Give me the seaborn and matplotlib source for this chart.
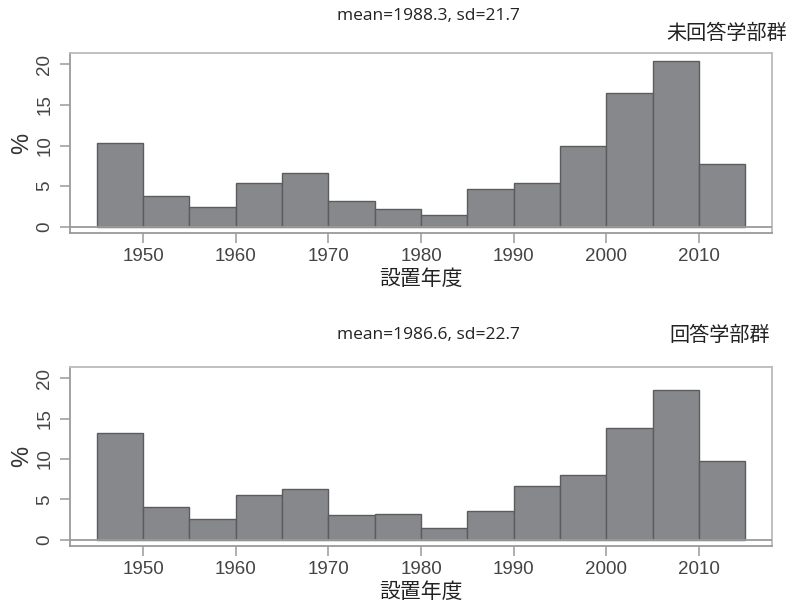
import numpy as np
import pandas as pd
import matplotlib
matplotlib.use("Agg")
import matplotlib.pyplot as plt
import seaborn as sns

# ---- data ----
bin_edges = [1945, 1950, 1955, 1960, 1965, 1970, 1975, 1980, 1985, 1990, 1995, 2000, 2005, 2010, 2015]
bin_starts = bin_edges[:-1]
pct_nonresp = [10.3, 3.8, 2.4, 5.4, 6.6, 3.2, 2.2, 1.4, 4.6, 5.4, 9.9, 16.5, 20.4, 7.7]
pct_resp = [13.2, 4.1, 2.6, 5.5, 6.3, 3.0, 3.2, 1.4, 3.6, 6.6, 8.0, 13.9, 18.5, 9.8]
titles = ["mean=1988.3, sd=21.7", "mean=1986.6, sd=22.7"]
groups = ["未回答学部群", "回答学部群"]
x_ticks = [1950, 1960, 1970, 1980, 1990, 2000, 2010]
y_ticks = [0, 5, 10, 15, 20]
x_label = "設置年度"
y_label = "%"

sns.set_theme(style="white")
plt.rcParams['font.family'] = ['Liberation Sans', 'DejaVu Sans']

fig = plt.figure(figsize=(7.9, 6.04), dpi=100)
W, H = 790, 604

def fx(px):
    return px / W

def fy(py):
    return 1 - py / H

axes_boxes = [(70, 53, 772, 233), (70, 367, 772, 546)]
mean_y = [16, 335]
group_pos = [(787, 33), (770, 335)]

bar_color = "#87888b"
edge_color = "#5c5c5e"
frame_color = "#9a9a9a"
text_color = "#444444"

for i, pct in enumerate([pct_nonresp, pct_resp]):
    l, t, r, b = axes_boxes[i]
    ax = fig.add_axes([fx(l), fy(b), fx(r) - fx(l), fy(t) - fy(b)])
    df = pd.DataFrame({"year": bin_starts, "pct": pct})
    sns.histplot(data=df, x="year", weights="pct", bins=bin_edges, stat="count",
                 color=bar_color, edgecolor=edge_color, linewidth=1.0, alpha=1.0, ax=ax)
    ax.axhline(0, color=frame_color, lw=1.3, zorder=3)
    ax.set_xlim(1942.1, 2017.9)
    ax.set_ylim(-0.78, 21.4)
    ax.set_xticks(x_ticks)
    ax.set_yticks(y_ticks)
    ax.set_xticklabels([str(v) for v in x_ticks], fontsize=13.5, color=text_color)
    ax.set_yticklabels([str(v) for v in y_ticks], fontsize=13.5, color=text_color,
                       rotation=90, va="center")
    ax.tick_params(axis="both", which="major", direction="out", length=7, width=1.1,
                   color=frame_color, bottom=True, left=True, pad=4)
    ax.tick_params(axis="y", pad=5)
    for s in ax.spines.values():
        s.set_color(frame_color)
        s.set_linewidth(1.3)
    ax.spines["top"].set_color("#bbbbbb")
    ax.spines["right"].set_color("#bbbbbb")
    ax.set_xlabel(x_label, fontsize=15, family=["Noto Sans CJK JP"], color="#222222", labelpad=2)
    ax.set_ylabel(y_label, fontsize=17, color="#333333", labelpad=2)
    ax.grid(False)

    fig.text(fx(428), fy(mean_y[i]), titles[i], ha="center", va="center", fontsize=12.5,
             family=["Open Sans", "DejaVu Sans"], color="#222222")
    gx, gy = group_pos[i]
    fig.text(fx(gx), fy(gy), groups[i], ha="right", va="center", fontsize=14.5,
             family=["Noto Sans CJK JP"], color="#222222")

fig.savefig("out.png", dpi=100, facecolor="white")
